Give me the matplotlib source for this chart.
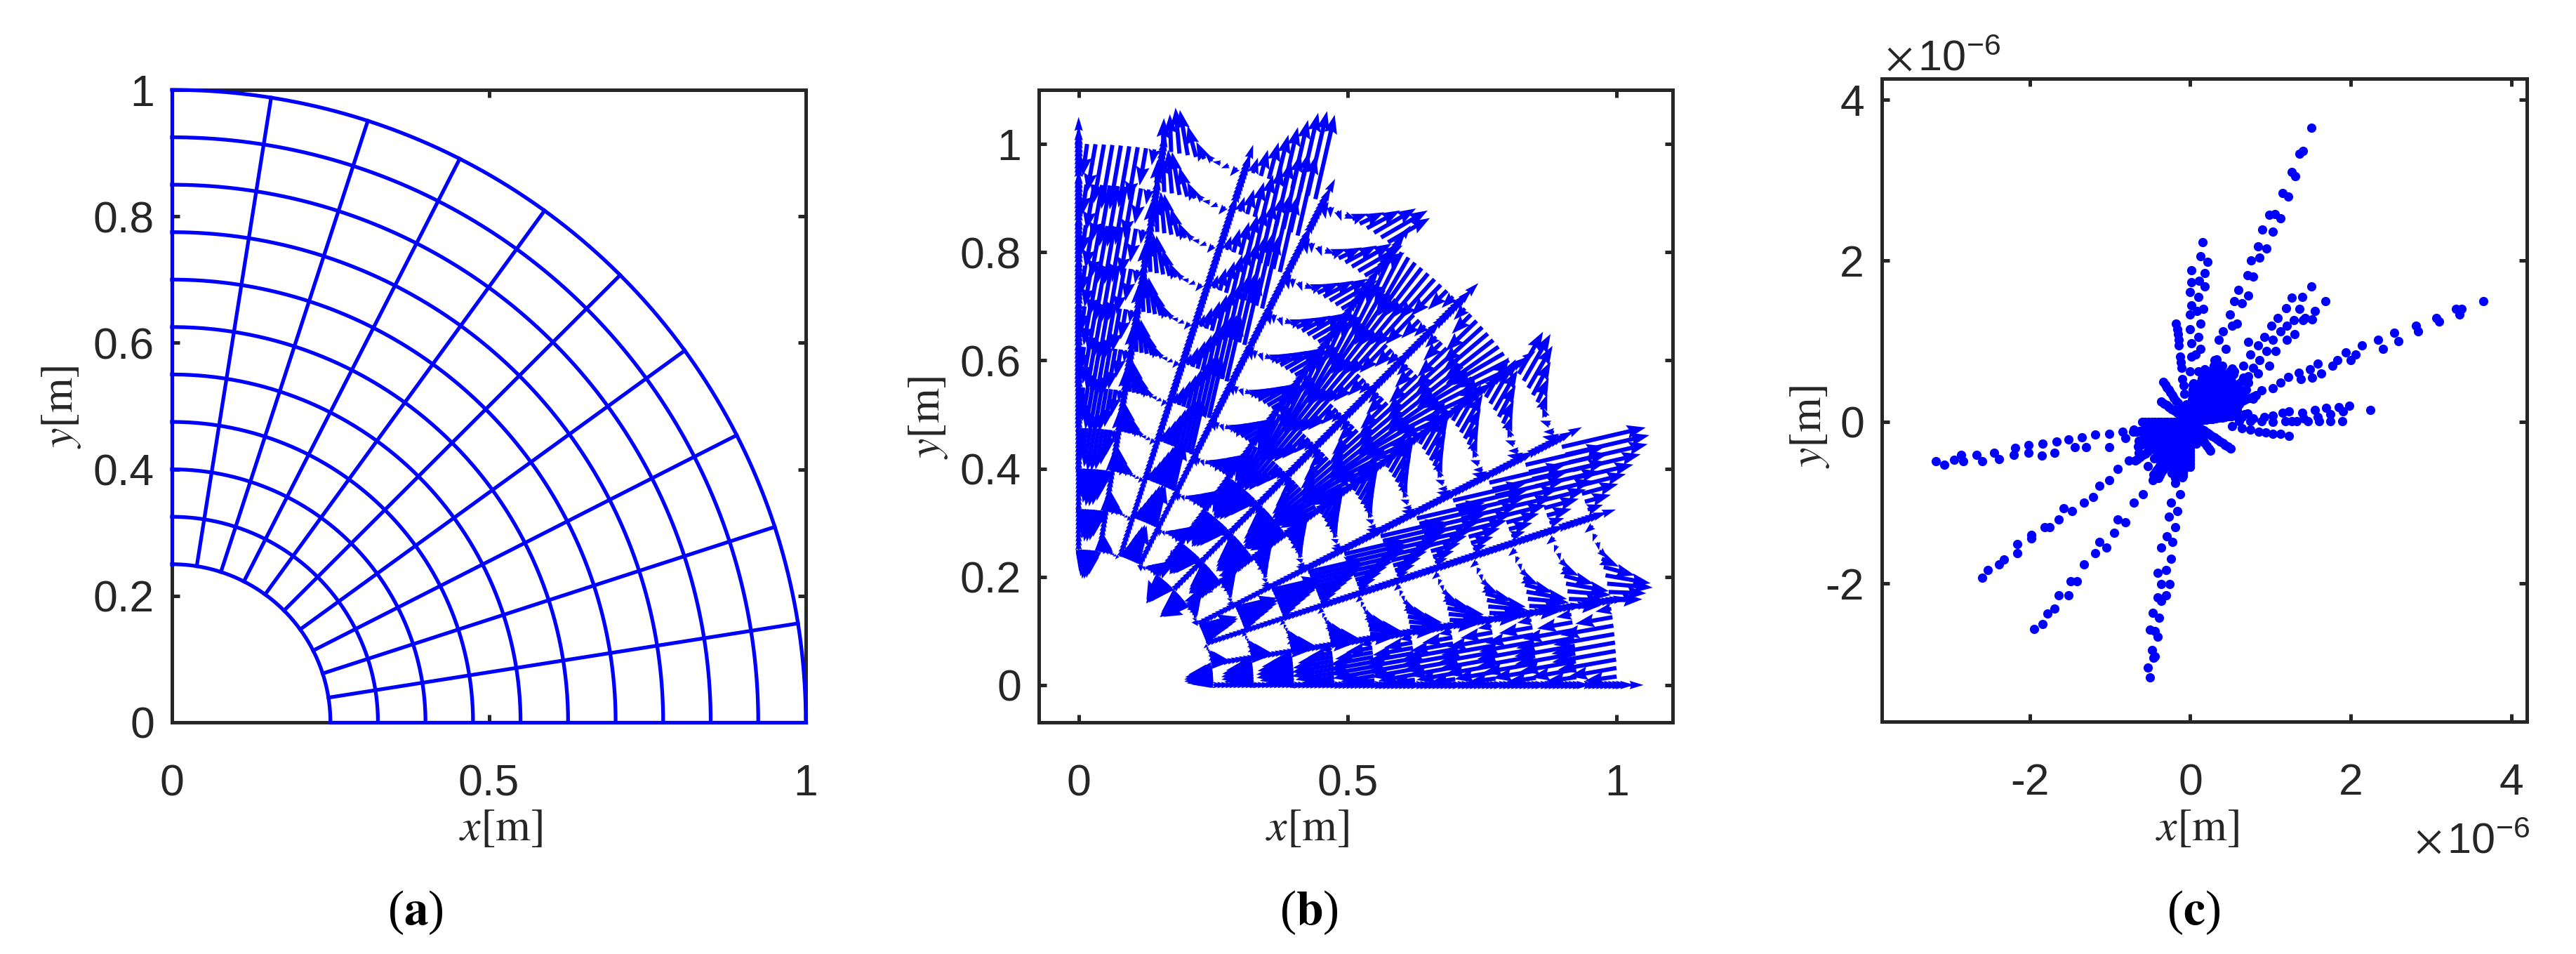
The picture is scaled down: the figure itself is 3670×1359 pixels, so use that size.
import numpy as np
import matplotlib
matplotlib.use('Agg')
import matplotlib.pyplot as plt

plt.rcParams['font.family'] = ['Liberation Sans', 'DejaVu Sans']
plt.rcParams['mathtext.fontset'] = 'stix'
plt.rcParams['axes.unicode_minus'] = False

W, H = 3670, 1359
BLUE = '#0000ff'
DARK = '#262626'

# mesh of panel a
radii = [0.25, 0.325, 0.4, 0.475, 0.55, 0.625, 0.7, 0.775, 0.85, 0.925, 1.0]
spokes_deg = [0, 9, 18, 27, 36, 45, 54, 63, 72, 81, 90]

# panel b: arrows along the outer arc, one row per sector going from 90 deg to 45 deg
# (the other half of the quadrant is the mirror image)
sector_mag = [
    [0.02, 0.06, 0.09, 0.11, 0.12, 0.12, 0.115, 0.10, 0.07, 0.03],
    [0.06, 0.07, 0.085, 0.085, 0.06, 0.035, 0.02, 0.015, 0.015, 0.02],
    [0.02, 0.03, 0.05, 0.07, 0.09, 0.11, 0.13, 0.15, 0.16, 0.16],
    [0.03, 0.02, 0.02, 0.02, 0.03, 0.05, 0.07, 0.09, 0.10, 0.09],
    [0.11, 0.115, 0.12, 0.12, 0.115, 0.11, 0.10, 0.08, 0.05, 0.03],
]
sector_dir = [
    [265, 262, 260, 260, 260, 260, 260, 260, 260, 260],
    [88, 92, 95, 100, 105, 115, 135, 170, 200, 230],
    [70, 72, 75, 75, 76, 77, 77, 77, 77, 77],
    [280, 270, 290, 340, 20, 25, 28, 30, 30, 30],
    [245, 243, 240, 235, 232, 230, 228, 226, 225, 225],
]
# how much shorter the arrows are on each arc
arc_scale = [0.45, 0.5, 0.58, 0.66, 0.71, 0.76, 0.81, 0.86, 0.9, 0.95, 1.0]
spoke_len = [0.02, 0.02, 0.022, 0.024, 0.026, 0.028, 0.03, 0.032, 0.034, 0.04, 0.05]

# panel c, points (units of 1e-6)
ray_x = [
    1.51, 1.40, 1.36, 1.26, 1.31, 1.15, 1.22, 0.98, 1.05, 1.12, 0.90, 1.03, 0.84, 0.95, 0.76, 0.86, 0.71, 0.78,
    0.60, 0.72, 0.55, 0.64, 0.49, 0.58, 0.41, 0.52, 0.35, 0.44, 0.30, 0.38,
    0.15, 0.125, 0.21, 0.18, 0.11, 0.18, 0.10, 0.16, 0.08, 0.125, 0.10, 0.07, 0.125, 0.10,
    0.01, 0.01, 0.0, 0.01, 0.0, 0.0, 0.01, 0.01, 0.0, 0.03,
    -0.18, -0.15, -0.14, -0.13, -0.11, -0.10, -0.07, -0.05, -0.165, -0.145, -0.12, -0.085,
    1.51, 1.39, 1.26, 1.36, 1.19, 1.43, 1.29, 1.09, 1.20, 1.01, 1.12, 0.92, 1.03, 0.84, 0.95, 0.72, 0.86, 0.75,
    0.66, 0.78, 0.55, 0.44, 0.66,
    1.68, 1.55, 1.52, 1.40, 1.30, 1.20, 1.06, 0.98, 0.84, 0.72, 0.61, 0.44,
    3.65, 3.38, 3.31, 3.35, 3.06, 3.10, 2.81, 2.84, 2.54, 2.59, 2.34, 2.40, 2.14, 2.06, 1.94, 2.0, 1.83, 1.77,
    1.59, 1.63, 1.49, 1.52, 1.35, 1.38, 1.22, 1.12, 1.03, 0.89, 0.78, 0.61,
    2.24, 1.98, 1.85, 1.90, 1.69, 1.74, 1.55, 1.59, 1.39, 1.41, 1.23, 1.26, 1.15, 1.03, 0.92, 0.78, 0.64,
    1.89, 1.74, 1.60, 1.46, 1.32, 1.18, 1.03, 0.89, 0.75, 0.61,
    1.23, 1.12, 1.03, 0.94, 0.85, 0.75, 0.64, 0.52,
    -0.50, -0.53, -0.44, -0.48, -0.46, -0.41, -0.50, -0.44, -0.39, -0.47, -0.36, -0.41, -0.30, -0.36, -0.26, -0.41,
    -0.30, -0.24, -0.36, -0.22, -0.29, -0.19, -0.27, -0.16, -0.24, -0.13, -0.19, -0.10, -0.13,
    -1.94, -1.84, -1.78, -1.69, -1.64, -1.52, -1.49, -1.41, -1.32, -1.18, -1.13, -0.95, -1.04, -0.81, -0.90, -0.70,
    -0.59, -0.47, -0.53, -0.36, -0.30,
    -2.59, -2.52, -2.38, -2.32, -2.15, -2.15, -1.98, -1.98, -1.81, -1.75, -1.64, -1.47, -1.58, -1.32, -1.21, -1.13,
    -1.01, -0.90, -0.76, -0.64, -0.53, -0.41,
    -3.17, -3.06, -2.94, -2.85, -2.83, -2.66, -2.59, -2.44, -2.38, -2.20, -2.18, -2.01, -2.01, -1.84, -1.85, -1.66,
    -1.69, -1.52, -1.44, -1.35, -1.18, -1.30, -1.01, -1.01, -0.84, -0.70, -0.53, -0.36, -0.81,
]
ray_y = [
    3.65, 3.36, 3.33, 3.10, 3.05, 2.84, 2.80, 2.57, 2.58, 2.53, 2.39, 2.36, 2.18, 2.15, 2.00, 2.04, 1.82, 1.80,
    1.64, 1.57, 1.50, 1.47, 1.33, 1.22, 1.12, 1.19, 1.02, 0.91, 0.77, 0.70,
    2.23, 2.06, 1.99, 1.85, 1.75, 1.68, 1.55, 1.40, 1.38, 1.22, 1.05, 0.84, 0.91, 0.63,
    1.88, 1.73, 1.61, 1.45, 1.33, 1.15, 0.98, 0.81, 0.63, 0.46,
    1.22, 1.09, 0.95, 0.81, 0.67, 0.53, 0.35, 0.22, 1.15, 1.02, 0.74, 0.45,
    1.68, 1.55, 1.54, 1.40, 1.41, 1.29, 1.26, 1.29, 1.19, 1.19, 1.12, 1.05, 1.02, 0.95, 0.88, 0.99, 0.77, 0.84,
    0.70, 0.67, 0.63, 0.49, 0.55,
    1.50, 1.38, 1.27, 1.26, 1.09, 1.02, 0.88, 0.70, 0.60, 0.49, 0.39, 0.29,
    1.50, 1.40, 1.40, 1.33, 1.29, 1.25, 1.19, 1.12, 1.11, 1.00, 1.02, 0.91, 0.95, 0.84, 0.86, 0.77, 0.77, 0.70,
    0.72, 0.60, 0.65, 0.55, 0.61, 0.53, 0.56, 0.49, 0.42, 0.39, 0.29, 0.22,
    0.15, 0.20, 0.18, 0.13, 0.17, 0.10, 0.15, 0.06, 0.11, 0.04, 0.13, 0.01, 0.11, 0.08, 0.06, 0.04, 0.06,
    0.01, 0.01, 0.01, 0.01, 0.01, 0.01, 0.0, 0.01, 0.01, 0.01,
    -0.17, -0.15, -0.15, -0.13, -0.12, -0.10, -0.08, -0.05,
    -3.17, -3.05, -2.91, -2.83, -2.93, -2.67, -2.58, -2.60, -2.43, -2.37, -2.22, -2.18, -2.15, -2.01, -2.01, -1.87,
    -1.84, -1.70, -1.56, -1.49, -1.42, -1.31, -1.18, -1.11, -1.00, -0.90, -0.76, -0.69, -0.55,
    -2.57, -2.51, -2.38, -2.32, -2.15, -2.15, -1.98, -1.98, -1.77, -1.63, -1.49, -1.38, -1.56, -1.25, -1.21, -1.00,
    -0.90, -0.72, -0.55, -0.48, -0.34,
    -1.93, -1.84, -1.77, -1.71, -1.63, -1.52, -1.45, -1.40, -1.31, -1.31, -1.21, -1.11, -1.07, -1.00, -0.93, -0.79,
    -0.72, -0.58, -0.48, -0.38, -0.27, -0.17,
    -0.49, -0.53, -0.47, -0.41, -0.49, -0.41, -0.49, -0.38, -0.46, -0.41, -0.32, -0.38, -0.29, -0.27, -0.42, -0.24,
    -0.38, -0.22, -0.31, -0.19, -0.16, -0.31, -0.15, -0.31, -0.12, -0.10, -0.06, -0.03, -0.20,
]
# short thick rays and the filled middle: direction in deg and reach
core_dir = [-33, -55, 145, 124, 180, -90, 190, 200, 215, 225, 235, 250, 262, 270, -75,
            8, 15, 22, 30, 38, 45, 52, 60, 67, 75, 85, 48, 205, 240, 255]
core_end = [0.62, 0.46, 0.44, 0.62, 0.60, 0.58, 0.75, 0.7, 0.85, 0.65, 0.8, 0.7, 0.7, 0.58, 0.3,
            0.75, 0.6, 0.9, 0.8, 0.95, 0.75, 0.85, 0.8, 0.85, 0.7, 0.5, 0.8, 0.75, 0.8, 0.75]
core_r = [0.0, 0.04, 0.08, 0.12, 0.16, 0.2, 0.24, 0.28, 0.32, 0.36, 0.4, 0.44, 0.48, 0.52, 0.56, 0.6,
          0.64, 0.68, 0.72, 0.76, 0.8, 0.84, 0.88, 0.92, 0.96]


def place(left, right, top, bottom):
    return fig.add_axes([left / W, 1 - bottom / H, (right - left) / W, (bottom - top) / H])


def style(ax, xticks, yticks):
    ax.set_xticks(xticks)
    ax.set_yticks(yticks)
    ax.tick_params(direction='in', top=True, right=True, length=8, width=3.6, color=DARK,
                   labelcolor=DARK, labelsize=45)
    ax.tick_params(axis='x', pad=42)
    ax.tick_params(axis='y', pad=18)
    for s in ax.spines.values():
        s.set_linewidth(3.6)
        s.set_color(DARK)


def arc_arrows():
    # one half of the quadrant, then swap x and y for the other half
    X, Y, U, V = [], [], [], []
    for i, r in enumerate(radii):
        for j in range(5):
            th = np.radians(90 - 9 * j - 0.9 * np.arange(10))
            ang = np.radians(sector_dir[j])
            m = np.array(sector_mag[j]) * arc_scale[i]
            X.extend(r * np.cos(th))
            Y.extend(r * np.sin(th))
            U.extend(m * np.cos(ang))
            V.extend(m * np.sin(ang))
    X, Y, U, V = map(np.array, (X, Y, U, V))
    return np.r_[X, Y], np.r_[Y, X], np.r_[U, V], np.r_[V, U]


def spoke_arrows():
    X, Y, U, V = [], [], [], []
    for i in range(len(radii)):
        for th_deg in spokes_deg[5:]:
            th = np.radians(th_deg)
            if i < len(radii) - 1:
                rr = np.linspace(radii[i], radii[i + 1], 10, endpoint=False)
            else:
                rr = np.array([radii[i]])
            X.extend(rr * np.cos(th))
            Y.extend(rr * np.sin(th))
            U.extend([spoke_len[i] * np.cos(th)] * len(rr))
            V.extend([spoke_len[i] * np.sin(th)] * len(rr))
    X, Y, U, V = map(np.array, (X, Y, U, V))
    return np.r_[X, Y], np.r_[Y, X], np.r_[U, V], np.r_[V, U]


fig = plt.figure(figsize=(W / 100, H / 100), dpi=100)

# (a)
ax = place(245, 1148, 128, 1029)
for r in radii:
    t = np.radians(np.linspace(0, 90, 200))
    ax.plot(r * np.cos(t), r * np.sin(t), color=BLUE, lw=3.8, zorder=3, clip_on=False)
for d in spokes_deg:
    t = np.radians(d)
    ax.plot([radii[0] * np.cos(t), np.cos(t)], [radii[0] * np.sin(t), np.sin(t)],
            color=BLUE, lw=3.8, zorder=3, clip_on=False)
ax.set_xlim(0, 1)
ax.set_ylim(0, 1)
style(ax, [0, 0.5, 1], [0, 0.2, 0.4, 0.6, 0.8, 1])
ax.set_xticklabels(['0', '0.5', '1'])
ax.set_yticklabels(['0', '0.2', '0.4', '0.6', '0.8', '1'])

# (b)
ax = place(1480, 2383, 128, 1029)
X, Y, U, V = arc_arrows()
ax.quiver(X, Y, U, V, color=BLUE, angles='xy', scale_units='xy', scale=1, units='dots', width=6,
          headwidth=3.2, headlength=4.5, headaxislength=4, minlength=0.5, zorder=3)
X, Y, U, V = spoke_arrows()
ax.quiver(X, Y, U, V, color=BLUE, angles='xy', scale_units='xy', scale=1, units='dots', width=4,
          headwidth=3, headlength=5, headaxislength=4.5, minlength=0.5, zorder=3)
ax.set_xlim(-0.074, 1.104)
ax.set_ylim(-0.069, 1.10)
style(ax, [0, 0.5, 1], [0, 0.2, 0.4, 0.6, 0.8, 1])
ax.set_xticklabels(['0', '0.5', '1'])
ax.set_yticklabels(['0', '0.2', '0.4', '0.6', '0.8', '1'])

# (c)
ax = place(2681, 3600, 112, 1028)
ax.plot(ray_x, ray_y, 'o', color=BLUE, ms=9.5, mew=0, zorder=3)
for d, e in zip(core_dir, core_end):
    rr = np.array([v for v in core_r if v <= e])
    ax.plot(rr * np.cos(np.radians(d)), rr * np.sin(np.radians(d)), 'o', color=BLUE, ms=9.5, mew=0, zorder=3)
ax.set_xlim(-3.84, 4.19)
ax.set_ylim(-3.72, 4.26)
style(ax, [-2, 0, 2, 4], [-2, 0, 2, 4])

# texts
LABEL = 46
fig.text(713 / W, 1 - 1180 / H, r'$x[\mathrm{m}]$', size=LABEL, color=DARK, ha='center', va='center')
fig.text(1862 / W, 1 - 1180 / H, r'$x[\mathrm{m}]$', size=LABEL, color=DARK, ha='center', va='center')
fig.text(3130 / W, 1 - 1180 / H, r'$x[\mathrm{m}]$', size=LABEL, color=DARK, ha='center', va='center')
fig.text(87 / W, 1 - 580 / H, r'$y[\mathrm{m}]$', size=LABEL, color=DARK, ha='center', va='center', rotation=90)
fig.text(1322 / W, 1 - 595 / H, r'$y[\mathrm{m}]$', size=LABEL, color=DARK, ha='center', va='center', rotation=90)
fig.text(2578 / W, 1 - 608 / H, r'$y[\mathrm{m}]$', size=LABEL, color=DARK, ha='center', va='center', rotation=90)
for label, px in zip('abc', (592, 1865, 3125)):
    fig.text(px / W, 1 - 1300 / H, r'($\mathbf{%s}$)' % label, size=50, color='black', ha='center', va='center',
             family='Liberation Serif')
off = r'$\times\,\mathregular{10^{-6}}$'
fig.text(2686 / W, 1 - 100 / H, off, size=44, color=DARK, ha='left', va='baseline')
fig.text(3440 / W, 1 - 1215 / H, off, size=44, color=DARK, ha='left', va='baseline')

fig.savefig('out.png', dpi=100, facecolor='white')
